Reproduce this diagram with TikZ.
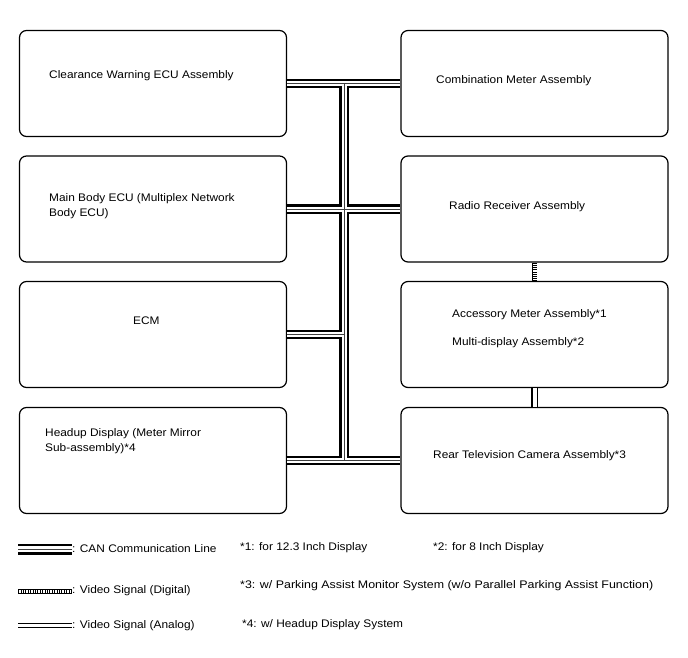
\documentclass[tikz,border=0pt]{standalone}
\usepackage{fontspec}
\usepackage{graphicx}
\setmainfont{Liberation Sans}[FakeStretch=1.08]
\usetikzlibrary{decorations.markings}
\begin{document}
\begin{tikzpicture}[x=1pt,y=-1pt,
  box/.style={draw, line width=1.2pt, rounded corners=7pt, minimum width=267pt, minimum height=106pt, inner sep=0pt},
  lbl/.style={anchor=base west, inner sep=0pt, font=\fontsize{11}{15}\selectfont},
  canout/.style={line width=9.4pt, black},
  canmid/.style={line width=5pt, white},
  canin/.style={line width=0.9pt, black!75},
  lcanout/.style={line width=11pt, black},
  lcanmid/.style={line width=5.6pt, white},
  lcanin/.style={line width=0.9pt, black!75},
  vdig/.style={double distance=4pt, line width=0.9pt, postaction={decorate},
    decoration={markings, mark=between positions 0.02 and 1 step 2.2pt with {\draw[line width=0.5pt] (0,-2.4pt) -- (0,2.4pt);}}},
  vana/.style={double distance=4pt, line width=1.1pt},
  ldig/.style={double distance=3.6pt, line width=0.7pt, postaction={decorate},
    decoration={markings, mark=between positions 0.01 and 1 step 2.4pt with {\draw[line width=0.5pt] (0,-2.1pt) -- (0,2.1pt);}}},
  lana/.style={double distance=3.2pt, line width=0.8pt}]
\useasboundingbox (0,0) rectangle (688,658);

% boxes
\node[box] (cw)  at (153,83.5)  {};
\node[box] (mb)  at (153,209)   {};
\node[box] (ecm) at (153,334.5) {};
\node[box] (hud) at (153,460.5) {};
\node[box] (cm)  at (534.5,83.5)  {};
\node[box] (rr)  at (534.5,209)   {};
\node[box] (am)  at (534.5,334.5) {};
\node[box] (rt)  at (534.5,460.5) {};

% box texts
\node[lbl] (tcw)  at (49,79)   {Clearance Warning ECU Assembly};
\node[lbl] (tmb1) at (49,201)  {Main Body ECU (Multiplex Network};
\node[lbl] (tmb2) at (49,216)  {Body ECU)};
\node[lbl] (tecm) at (133,324) {ECM};
\node[lbl] (thud1) at (45,436) {Headup Display (Meter Mirror};
\node[lbl] (thud2) at (45,451) {Sub-assembly)*4};
\node[lbl] (tcm)  at (436,84)  {Combination Meter Assembly};
\node[lbl] (trr)  at (449,209) {Radio Receiver Assembly};
\node[lbl] (tam1) at (452,317) {Accessory Meter Assembly*1};
\node[lbl] (tam2) at (452,345) {Multi-display Assembly*2};
\node[lbl] (trt)  at (433,458) {Rear Television Camera Assembly*3};

% CAN bus
\coordinate (bt) at (344,83.5);
\coordinate (bb) at (344,460.5);
\coordinate (ej) at (344,334.5);
\foreach \st in {canout,canmid,canin}{
  \draw[\st] (cw.east) -- (cm.west) (mb.east) -- (rr.west) (ecm.east) -- (ej)
    (hud.east) -- (rt.west) (bt) -- (bb);
}

% video lines
\draw[vdig] (rr.south) -- (am.north);
\draw[vana] (am.south) -- (rt.north);

% legend
\coordinate (lc1) at (18,549);   \coordinate (lc2) at (72,549);
\coordinate (ld1) at (18,591.6); \coordinate (ld2) at (72,591.6);
\coordinate (la1) at (18,625.3); \coordinate (la2) at (72,625.3);
\foreach \st in {lcanout,lcanmid,lcanin}{ \draw[\st] (lc1) -- (lc2); }
\draw[ldig] (ld1) -- (ld2);
\draw[lana] (la1) -- (la2);
\node[lbl] (tlc) at (72,552) {: CAN Communication Line};
\node[lbl] (tld) at (72,593) {: Video Signal (Digital)};
\node[lbl] (tla) at (72,628) {: Video Signal (Analog)};

% footnotes
\node[lbl] (f1) at (240,550) {*1: for 12.3 Inch Display};
\node[lbl] (f2) at (433,550) {*2: for 8 Inch Display};
\node[lbl] (f3) at (240,588) {\scalebox{1.045}[1]{*3: w/ Parking Assist Monitor System (w/o Parallel Parking Assist Function)}};
\node[lbl] (f4) at (242,627) {*4: w/ Headup Display System};
\end{tikzpicture}
\end{document}
